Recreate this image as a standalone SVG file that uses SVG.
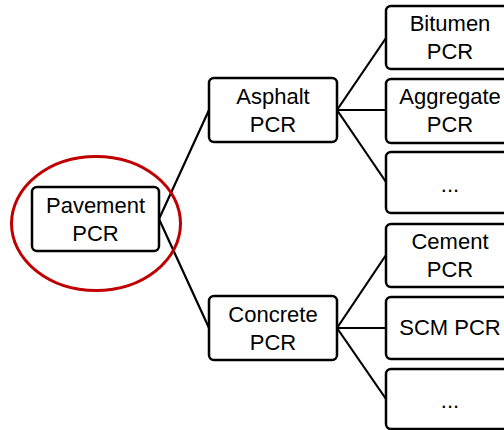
<svg xmlns="http://www.w3.org/2000/svg" width="504" height="430" viewBox="0 0 504 430">
<style>
.box{fill:#fff;stroke:#000;stroke-width:2.5}
.t{font-family:"Comic Sans MS","Liberation Sans",sans-serif;font-size:22px;text-anchor:middle;fill:#000}
.c{stroke:#000;stroke-width:2.2;fill:none}
</style>
<rect width="504" height="430" fill="#fff"/>
<g id="connectors">
<line class="c" x1="159" y1="219" x2="209" y2="110"/>
<line class="c" x1="159" y1="219" x2="209" y2="328"/>
<line class="c" x1="337" y1="110" x2="386" y2="38"/>
<line class="c" x1="337" y1="110" x2="386" y2="110"/>
<line class="c" x1="337" y1="110" x2="386" y2="182"/>
<line class="c" x1="337" y1="328" x2="386" y2="255"/>
<line class="c" x1="337" y1="328" x2="386" y2="328"/>
<line class="c" x1="337" y1="328" x2="386" y2="399"/>
</g>
<g id="pavement">
<rect class="box" x="32" y="187" width="127" height="64" rx="5"/>
<text class="t" x="95.5" y="213">Pavement</text>
<text class="t" x="95.5" y="241">PCR</text>
</g>
<g id="highlight">
<ellipse cx="96" cy="223.5" rx="84.5" ry="67" fill="none" stroke="#C00000" stroke-width="3"/>
</g>
<g id="asphalt">
<rect class="box" x="209" y="78" width="128" height="64" rx="5"/>
<text class="t" x="273" y="104">Asphalt</text>
<text class="t" x="273" y="132">PCR</text>
</g>
<g id="concrete">
<rect class="box" x="209" y="296" width="128" height="64" rx="5"/>
<text class="t" x="273" y="322">Concrete</text>
<text class="t" x="273" y="350">PCR</text>
</g>
<g id="bitumen">
<rect class="box" x="386" y="6" width="128" height="63" rx="5"/>
<text class="t" x="450" y="31">Bitumen</text>
<text class="t" x="450" y="59">PCR</text>
</g>
<g id="aggregate">
<rect class="box" x="386" y="79" width="128" height="64" rx="5"/>
<text class="t" x="450" y="104">Aggregate</text>
<text class="t" x="450" y="132">PCR</text>
</g>
<g id="asphalt-more">
<rect class="box" x="386" y="152" width="128" height="61" rx="5"/>
<text class="t" x="450" y="192">...</text>
</g>
<g id="cement">
<rect class="box" x="386" y="224" width="128" height="63" rx="5"/>
<text class="t" x="450" y="249">Cement</text>
<text class="t" x="450" y="277">PCR</text>
</g>
<g id="scm">
<rect class="box" x="386" y="297" width="128" height="62" rx="5"/>
<text class="t" x="450" y="335">SCM PCR</text>
</g>
<g id="concrete-more">
<rect class="box" x="386" y="369" width="128" height="60" rx="5"/>
<text class="t" x="450" y="408">...</text>
</g>
</svg>
